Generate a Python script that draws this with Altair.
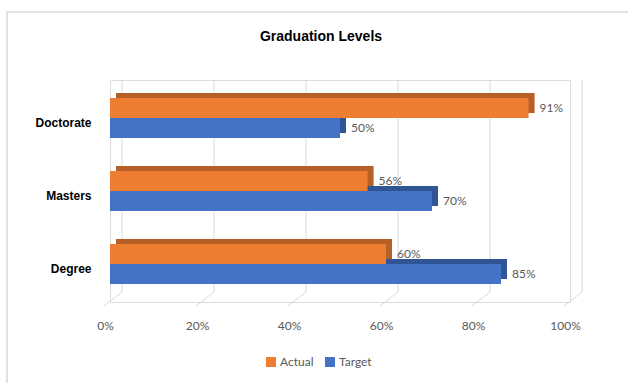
import altair as alt
import pandas as pd

categories = ["Doctorate", "Masters", "Degree"]
series = ["Actual", "Target"]
actual = [0.91, 0.56, 0.60]
target = [0.50, 0.70, 0.85]
ticks = [0, 0.2, 0.4, 0.6, 0.8, 1.0]
colors = ["#ED7D31", "#4472C4"]
dark_colors = ["#B65F27", "#2F5597"]

rows = []
for c, a, t in zip(categories, actual, target):
    rows.append({"cat": c, "series": "Actual", "value": a})
    rows.append({"cat": c, "series": "Target", "value": t})
df = pd.DataFrame(rows)
tick_df = pd.DataFrame({"v": ticks})
one = pd.DataFrame({"a": [0]})

W, H = 460, 222
LBL = "Lato"
BOLD = "Liberation Sans"

xaxis = alt.Axis(values=ticks, format="%", grid=False, domain=False, ticks=False,
                 labelPadding=18, labelOffset=-5, labelFlush=False, labelColor="#595959",
                 labelFontSize=12, labelFont=LBL, title=None)
yaxis = alt.Axis(domain=False, ticks=False, labelPadding=19, labelOffset=5, labelFontSize=12,
                 labelFontWeight="bold", labelColor="#000000", labelFont=BOLD, title=None)

xscale = alt.Scale(domain=[0, 1])
yscale = alt.Scale(domain=categories, paddingInner=0.452, paddingOuter=0.2466, range=[0, H])
yscale_shadow = alt.Scale(domain=categories, paddingInner=0.452, paddingOuter=0.2466, range=[-5, H - 5])
yoff = alt.YOffset("series:N", sort=series,
                   scale=alt.Scale(domain=series, paddingInner=0, paddingOuter=0))

border = alt.Chart(one).mark_rect(fillOpacity=0, stroke="#D9D9D9", strokeWidth=1.5).encode(
    x=alt.value(-103), x2=alt.value(W + 80), y=alt.value(-68), y2=alt.value(H + 100)
)

back_grid = alt.Chart(tick_df).mark_rule(color="#D9D9D9", strokeWidth=1, xOffset=12).encode(
    x=alt.X("v:Q", scale=xscale, axis=xaxis), y=alt.value(0), y2=alt.value(H - 10)
)
floor_grid = alt.Chart(tick_df).mark_rule(color="#D9D9D9", strokeWidth=1, xOffset=12, x2Offset=-6).encode(
    x=alt.X("v:Q", scale=xscale, axis=xaxis), x2="v:Q", y=alt.value(H - 10), y2=alt.value(H + 4)
)

shadow = alt.Chart(df).mark_bar(xOffset=6, x2Offset=6).encode(
    x=alt.X("value:Q", scale=xscale, axis=xaxis),
    y=alt.Y("cat:N", scale=yscale_shadow, sort=categories, axis=None),
    yOffset=yoff,
    fill=alt.condition(alt.datum.series == "Actual", alt.value(dark_colors[0]), alt.value(dark_colors[1])),
)

bars = alt.Chart(df).mark_bar().encode(
    x=alt.X("value:Q", scale=xscale, axis=xaxis),
    y=alt.Y("cat:N", scale=yscale, sort=categories, axis=yaxis),
    yOffset=yoff,
    color=alt.Color("series:N", scale=alt.Scale(domain=series, range=colors),
                    legend=alt.Legend(title=None, orient="none", direction="horizontal",
                                      legendX=155, legendY=276, symbolType="square",
                                      symbolSize=100, symbolStrokeWidth=0,
                                      labelFontSize=12, labelColor="#595959", labelFont=LBL,
                                      columnPadding=10, labelOffset=3)),
)

labels = alt.Chart(df).mark_text(align="left", baseline="middle", dx=11, fontSize=12,
                                 color="#595959", font=LBL).encode(
    x=alt.X("value:Q", scale=xscale, axis=xaxis),
    y=alt.Y("cat:N", scale=yscale, sort=categories, axis=yaxis),
    yOffset=yoff,
    text=alt.Text("value:Q", format=".0%"),
)

front = alt.layer(bars, labels)

chart = alt.layer(border, back_grid, floor_grid, shadow, front).resolve_scale(y="independent").properties(
    width=W, height=H,
    title=alt.TitleParams("Graduation Levels", anchor="middle", fontSize=14, font=BOLD,
                          fontWeight="bold", color="#000000", offset=-33, dx=-19, frame="group"),
    autosize=alt.AutoSizeParams(type="none"),
    padding={"left": 110, "top": 80, "right": 58, "bottom": 81},
).configure_view(stroke=None).configure(background="white")

chart.save("out.html", embed_options={"renderer": "svg", "actions": False})
